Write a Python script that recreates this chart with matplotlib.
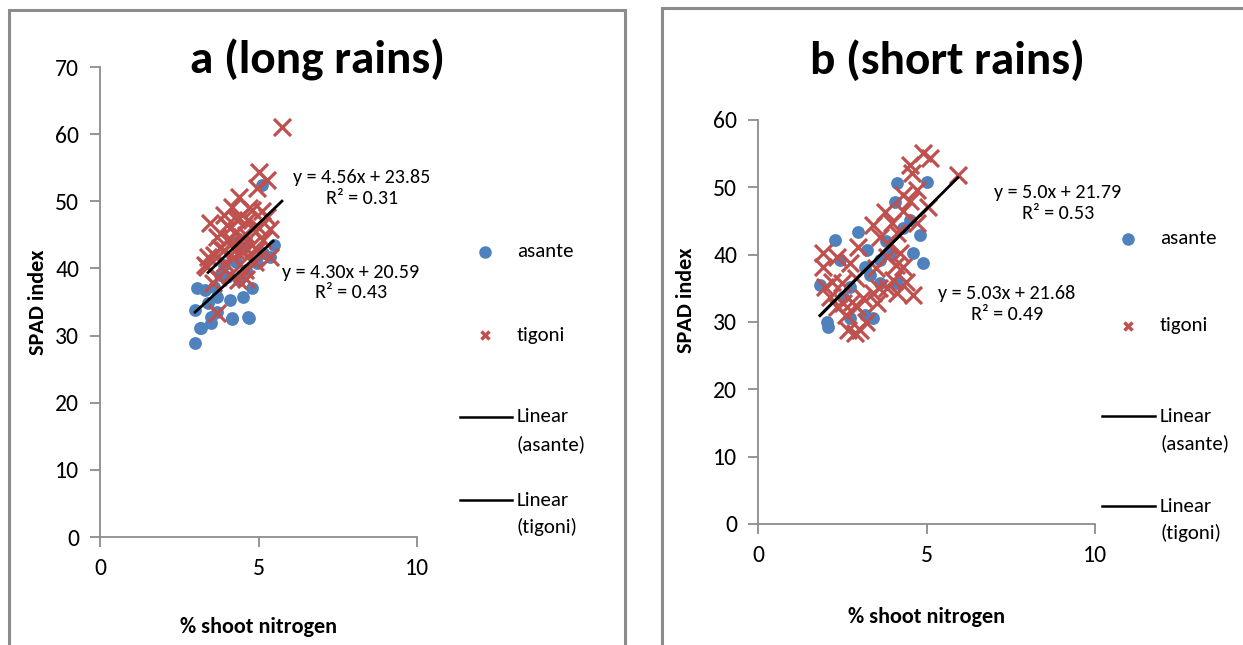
import numpy as np
import matplotlib.pyplot as plt
from matplotlib.lines import Line2D
from matplotlib.patches import Rectangle

plt.rcParams['font.family'] = ['Carlito', 'Liberation Sans', 'DejaVu Sans']

# ---------------------------------------------------------------
# Datos (% N en brotes vs indice SPAD)

# a (long rains)
a_asante_x = [3.0, 3.15, 3.0, 3.05, 3.5, 4.15, 4.67, 4.5, 4.8, 4.1, 3.7, 3.4,
              3.6, 3.3, 4.4, 4.0, 4.6, 4.95, 5.15, 5.5, 5.35, 3.7, 3.2, 3.5,
              4.15, 4.7, 3.9, 4.3, 4.5, 5.1, 4.2, 3.8]
a_asante_y = [28.9, 31.1, 33.8, 37.1, 32.8, 32.6, 32.8, 35.8, 37.1, 35.3, 35.8, 34.9,
              37.3, 36.8, 38.3, 38.7, 39.8, 40.8, 42.3, 43.5, 41.7, 33.5, 31.1, 31.9,
              32.5, 32.6, 40.5, 41.0, 43.0, 52.5, 44.0, 39.0]
a_tigoni_x = [5.74, 5.0, 5.27, 4.95, 4.4, 3.47, 4.15, 4.8, 5.27, 5.35, 5.35, 3.4,
              3.57, 3.7, 4.35, 4.57, 3.95, 4.0, 4.48, 4.83, 3.7, 4.32, 4.67, 3.9,
              4.26, 4.95, 5.15, 3.72, 4.63, 3.37, 4.1, 4.5, 3.8, 4.0, 4.2, 4.4,
              4.6, 4.8, 5.0, 3.6, 4.1, 4.3, 4.7, 4.9, 3.9, 4.5, 5.1, 3.3,
              4.2, 4.6]
a_tigoni_y = [61.0, 54.4, 53.2, 52.0, 50.7, 46.8, 49.2, 48.7, 47.7, 45.8, 41.7, 41.7,
              37.9, 33.4, 38.3, 39.8, 40.8, 44.3, 44.7, 45.8, 44.7, 47.2, 47.2, 42.8,
              42.8, 42.8, 44.3, 38.7, 41.7, 40.2, 46.0, 43.5, 43.0, 46.5, 41.5, 47.5,
              45.0, 43.5, 46.0, 42.0, 39.0, 45.5, 49.0, 41.0, 48.0, 42.5, 48.5, 40.5,
              44.0, 38.5]

# b (short rains)
b_asante_x = [4.12, 5.0, 4.07, 2.97, 2.28, 1.84, 2.05, 2.08, 2.73, 3.41, 3.18, 3.18,
              3.32, 3.62, 4.12, 4.6, 4.8, 4.5, 4.9, 3.23, 3.62, 3.92, 2.52, 2.43,
              2.73, 4.3, 3.8]
b_asante_y = [50.7, 50.8, 47.8, 43.4, 42.2, 35.5, 30.0, 29.3, 30.6, 30.6, 31.1, 38.2,
              37.0, 35.8, 35.8, 40.3, 42.9, 45.2, 38.8, 40.7, 39.2, 40.3, 33.7, 39.2,
              35.2, 44.0, 42.0]
b_tigoni_x = [5.93, 4.9, 5.1, 4.5, 4.56, 4.72, 4.3, 5.04, 3.77, 3.41, 3.97, 4.12,
              3.62, 4.72, 2.97, 1.93, 2.34, 2.73, 1.93, 3.83, 4.21, 4.3, 4.0, 3.83,
              4.6, 4.12, 3.41, 3.12, 1.99, 2.52, 2.94, 2.67, 2.88, 3.03, 2.34, 3.53,
              2.49, 2.14, 4.3, 4.5, 3.9, 3.5, 2.9, 2.2, 2.6, 3.2, 4.4, 4.1,
              3.6, 2.8]
b_tigoni_y = [51.9, 55.1, 54.4, 53.3, 52.1, 49.6, 48.9, 47.1, 46.4, 44.4, 44.7, 43.2,
              42.6, 44.7, 41.2, 40.3, 39.7, 38.8, 38.2, 39.7, 40.3, 38.2, 36.3, 35.1,
              34.0, 34.3, 34.3, 33.6, 35.2, 32.8, 32.2, 28.8, 28.4, 28.8, 32.2, 32.8,
              35.8, 33.7, 46.5, 48.0, 41.5, 38.0, 36.5, 36.0, 31.0, 30.0, 36.0, 38.5,
              35.0, 33.0]

# Lineas de tendencia: (pendiente, ordenada, x inicio, x fin)
a_fit_asante = (4.30, 20.59, 3.0, 5.46)
a_fit_tigoni = (4.56, 23.85, 3.41, 5.74)
b_fit_asante = (5.03, 21.68, 1.84, 5.0)
b_fit_tigoni = (5.0, 21.79, 1.84, 5.93)

a_eq_asante = 'y = 4.30x + 20.59\nR² = 0.43'
a_eq_tigoni = 'y = 4.56x + 23.85\nR² = 0.31'
b_eq_asante = 'y = 5.03x + 21.68\nR² = 0.49'
b_eq_tigoni = 'y = 5.0x + 21.79\nR² = 0.53'

azul = '#4F81BD'
rojo = '#C0504D'
gris = '#8C8C8C'

W, H = 1243, 645
fig = plt.figure(figsize=(W / 100, H / 100), dpi=100)


def fx(px):
  return px / W


def fy(py):
  return 1 - py / H


def px_ax(l, r, t, b):
  # Ejes a partir de pixeles (izq, der, arriba, abajo)
  return fig.add_axes([fx(l), fy(b), fx(r) - fx(l), fy(t) - fy(b)])


def recta(ax, fit):
  m, c, x0, x1 = fit
  xs = np.array([x0, x1])
  ax.plot(xs, m * xs + c, color='black', lw=2, zorder=4)


def panel(ax, ymax, ystep, ax_x, ax_y, at_x, at_y, fits, eqs, eq_pos):
  ax.scatter(ax_x, ax_y, s=85, color=azul, zorder=2, linewidths=0)
  ax.scatter(at_x, at_y, s=150, marker='x', color=rojo, linewidths=2.3, zorder=3)
  for f in fits:
    recta(ax, f)
  for txt, (x, y) in zip(eqs, eq_pos):
    ax.text(x, y, txt, ha='center', va='center', fontsize=14.5,
            multialignment='center', linespacing=1.25, clip_on=False)
  ax.set_xlim(0, 10)
  ax.set_ylim(0, ymax)
  ax.set_xticks([0, 5, 10])
  ax.set_yticks(np.arange(0, ymax + 1, ystep))
  for s in ['top', 'right']:
    ax.spines[s].set_visible(False)
  for s in ['left', 'bottom']:
    ax.spines[s].set_color(gris)
    ax.spines[s].set_linewidth(1.3)
  ax.tick_params(colors=gris, labelcolor='black', labelsize=17, length=7,
                 width=1.3, pad=8)
  ax.set_ylabel('SPAD index', fontsize=16, fontweight='bold')
  ax.set_xlabel('% shoot nitrogen', fontsize=16, fontweight='bold')


def leyenda(x_mark, x_l0, x_l1, x_txt, ys):
  # Leyenda a mano, como en Excel
  fig.add_artist(Line2D([fx(x_mark)], [fy(ys[0])], marker='o', ms=8,
                        color=azul, ls='none'))
  fig.text(fx(x_txt), fy(ys[0]), 'asante', fontsize=15, va='center')
  fig.add_artist(Line2D([fx(x_mark)], [fy(ys[1])], marker='x', ms=6, mew=2.5,
                        color=rojo, ls='none'))
  fig.text(fx(x_txt), fy(ys[1]), 'tigoni', fontsize=15, va='center')
  for y, nom in zip(ys[2:], ['(asante)', '(tigoni)']):
    fig.add_artist(Line2D([fx(x_l0), fx(x_l1)], [fy(y), fy(y)], color='black', lw=1.8))
    fig.text(fx(x_txt), fy(y), 'Linear', fontsize=15, va='center')
    fig.text(fx(x_txt), fy(y + 27), nom, fontsize=15, va='center')


# Marcos de cada grafico
fig.add_artist(Rectangle((fx(9), fy(660)), fx(625) - fx(9), fy(10) - fy(660),
                         fill=False, edgecolor=gris, lw=2.2))
fig.add_artist(Rectangle((fx(662), fy(660)), fx(1260) - fx(662), fy(8) - fy(660),
                         fill=False, edgecolor=gris, lw=2.2))

# Panel a
ax1 = px_ax(100, 417, 67, 537)
panel(ax1, 70, 10, a_asante_x, a_asante_y, a_tigoni_x, a_tigoni_y,
      [a_fit_asante, a_fit_tigoni], [a_eq_tigoni, a_eq_asante],
      [(8.26, 52.0), (7.92, 37.9)])
ax1.yaxis.set_label_coords(-0.164, 0.5)
ax1.xaxis.set_label_coords(0.5, -0.17)
fig.text(fx(317), fy(60), 'a (long rains)', fontsize=34, fontweight='bold',
         ha='center', va='center')
leyenda(485, 460, 512, 517, [252, 335, 417, 500])

# Panel b
ax2 = px_ax(758, 1095, 120, 524)
panel(ax2, 60, 10, b_asante_x, b_asante_y, b_tigoni_x, b_tigoni_y,
      [b_fit_asante, b_fit_tigoni], [b_eq_tigoni, b_eq_asante],
      [(8.9, 47.7), (7.39, 32.7)])
ax2.yaxis.set_label_coords(-0.184, 0.554)
ax2.xaxis.set_label_coords(0.5, -0.205)
fig.text(fx(947), fy(60), 'b (short rains)', fontsize=34, fontweight='bold',
         ha='center', va='center')
leyenda(1128, 1102, 1155, 1160, [239, 326, 416, 506])

fig.savefig('out.png', dpi=100)
